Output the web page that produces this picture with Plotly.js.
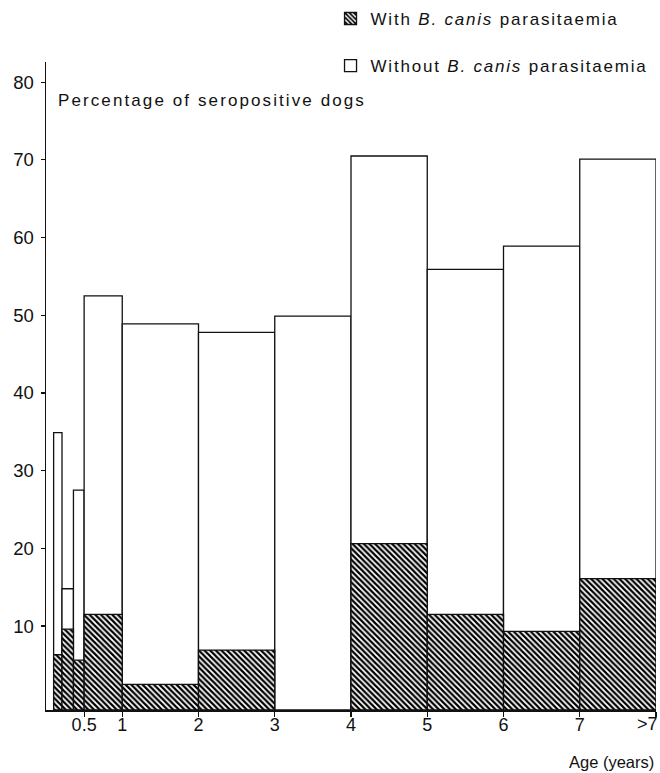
<!DOCTYPE html>
<html>
<head>
<meta charset="utf-8">
<script src="https://cdn.plot.ly/plotly-3.0.1.min.js"></script>
<style>html,body{margin:0;padding:0;background:#fff;}#chart{width:660px;height:773px;}</style>
</head>
<body>
<div id="chart"></div>
<script>
// Age classes (years): start and end of each class
const ageStart = [0.1, 0.21, 0.36, 0.5, 1, 2, 3, 4, 5, 6, 7];
const ageEnd   = [0.21, 0.36, 0.5, 1, 2, 3, 4, 5, 6, 7, 8];
// Percentage of seropositive dogs (total) and those with B. canis parasitaemia
const totalPct = [34.9, 14.8, 27.5, 52.5, 48.9, 47.8, 49.9, 70.5, 55.9, 58.9, 70.1];
const withPct  = [6.3, 9.6, 5.6, 11.5, 2.5, 6.9, 0, 20.6, 11.5, 9.3, 16.1];
// Tick labels (the last one, ">7", sits at the right edge and is drawn right-aligned)
const xTickVals = [0.5, 1, 2, 3, 4, 5, 6, 7, 8];
const xTickText = ['0.5', '1', '2', '3', '4', '5', '6', '7', '>7'];
const yTickVals = [10, 20, 30, 40, 50, 60, 70, 80];

const Y0 = -0.81; // axis baseline sits slightly below zero in the original
const xMid = ageStart.map((s, i) => (s + ageEnd[i]) / 2);
const xWid = ageStart.map((s, i) => ageEnd[i] - s);
const FONT = 'Liberation Sans, Arial, Helvetica, sans-serif';
const sp = (t, ls) => '<span style="letter-spacing:' + ls + 'px">' + t + '</span>';
const lastIdx = xTickText.length - 1;

const traces = [
  {
    type: 'bar', x: xMid, width: xWid,
    y: totalPct.map(v => v - Y0), base: Y0,
    name: sp('Without <i>B. canis</i> parasitaemia', 1.8),
    legendgroup: 'b', legendrank: 2,
    marker: {color: '#ffffff', line: {color: '#111', width: 1.3}},
    hoverinfo: 'skip'
  },
  {
    type: 'bar', x: xMid, width: xWid,
    y: withPct.map(v => v > 0 ? v - Y0 : null), base: Y0,
    name: sp('With <i>B. canis</i> parasitaemia', 1.8),
    legendgroup: 'a', legendrank: 1,
    marker: {color: '#ffffff', line: {color: '#111', width: 1.3},
             pattern: {shape: '\\', size: 4, solidity: 0.55, fgcolor: '#000', bgcolor: '#ffffff'}},
    hoverinfo: 'skip'
  }
];

const layout = {
  width: 660, height: 773,
  margin: {l: 46, r: 4, t: 62, b: 63, autoexpand: false},
  paper_bgcolor: '#fff', plot_bgcolor: '#fff',
  font: {family: FONT, size: 17, color: '#111'},
  barmode: 'overlay',
  bargap: 0,
  showlegend: true,
  legend: {
    xref: 'container', yref: 'container',
    x: 0.5008, xanchor: 'left', y: 0.9988, yanchor: 'top',
    font: {family: FONT, size: 17, color: '#111'},
    traceorder: 'grouped', tracegroupgap: 22,
    bgcolor: 'rgba(0,0,0,0)', borderwidth: 0
  },
  xaxis: {
    range: [0, 8], showgrid: false, zeroline: false,
    showline: true, linecolor: '#111', linewidth: 1.5,
    ticks: 'outside', ticklen: 5, tickwidth: 1.2, tickcolor: '#111',
    tickvals: xTickVals,
    ticktext: xTickText.map((t, i) => i === lastIdx ? '' : t),
    ticklabelstandoff: -7,
    tickfont: {family: FONT, size: 18, color: '#111'}
  },
  yaxis: {
    range: [Y0, 82.6], showgrid: false, zeroline: false,
    showline: true, linecolor: '#111', linewidth: 1.5,
    ticks: 'outside', ticklen: 4, tickwidth: 1.2, tickcolor: '#111',
    tickvals: yTickVals,
    ticklabelstandoff: 3,
    tickfont: {family: FONT, size: 18.5, color: '#111'}
  },
  annotations: [
    {
      text: sp('Percentage of seropositive dogs', 2.1),
      xref: 'paper', yref: 'paper', x: 0.017, y: 0.941,
      xanchor: 'left', yanchor: 'middle', showarrow: false,
      font: {family: FONT, size: 17, color: '#111'}
    },
    {
      text: xTickText[lastIdx],
      xref: 'paper', yref: 'paper', x: 1.0, y: -0.0216, xshift: 4,
      xanchor: 'right', yanchor: 'middle', showarrow: false,
      font: {family: FONT, size: 18, color: '#111'}
    },
    {
      text: 'Age (years)',
      xref: 'paper', yref: 'paper', x: 1.0, y: -0.08,
      xanchor: 'right', yanchor: 'middle', showarrow: false,
      font: {family: FONT, size: 16.5, color: '#111'}
    }
  ]
};

Plotly.newPlot('chart', traces, layout, {displayModeBar: false, staticPlot: true});
</script>
</body>
</html>
